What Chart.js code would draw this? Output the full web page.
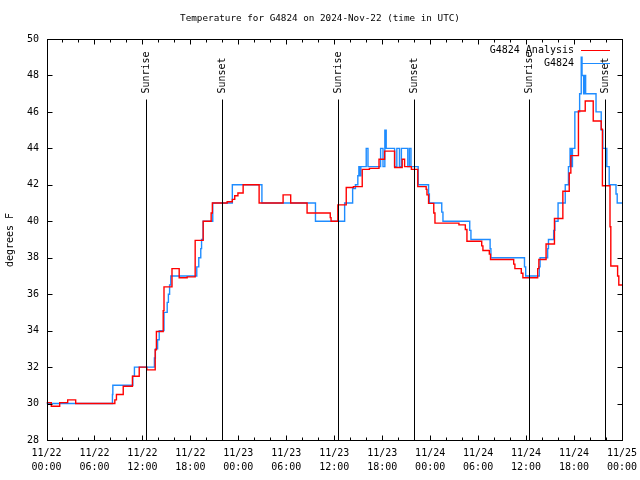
<!DOCTYPE html>
<html>
<head>
<meta charset="utf-8">
<script src="https://cdn.jsdelivr.net/npm/chart.js@4/dist/chart.umd.min.js"></script>
<style>
body{margin:0;background:#fff}
canvas{display:block}
</style>
</head>
<body>
<canvas id="c" width="640" height="480"></canvas>
<script>
var title = "Temperature for G4824 on 2024-Nov-22 (time in UTC)"
var yTitle = "degrees F"

// hours since 11/22 00:00 UTC
var tickHours = [0, 6, 12, 18, 24, 30, 36, 42, 48, 54, 60, 66, 72]
var tickDays = ['11/22', '11/22', '11/22', '11/22', '11/23', '11/23', '11/23', '11/23', '11/24', '11/24', '11/24', '11/24', '11/25']
var tickTimes = ['00:00', '06:00', '12:00', '18:00', '00:00', '06:00', '12:00', '18:00', '00:00', '06:00', '12:00', '18:00', '00:00']
var yTicks = [28, 30, 32, 34, 36, 38, 40, 42, 44, 46, 48, 50]

var sunHours = [12.5, 21.95, 36.45, 46.0, 60.35, 69.9]
var sunLabels = ['Sunrise', 'Sunset', 'Sunrise', 'Sunset', 'Sunrise', 'Sunset']

// G4824 Analysis (red)
var anaHours = [0, 0.6, 1.65, 2.65, 3.65, 8.55, 8.75, 9.6, 10.75, 11.6, 12.55, 13.6, 13.75, 14.6, 14.7, 15.7, 16.6, 17.6,
  18.6, 19.6, 20.6, 20.75, 22.6, 23.25, 23.55, 23.95, 24.6, 26.6, 29.6, 30.55, 32.6, 35.5, 35.6, 36.45, 37.5, 38.4,
  39.5, 40.4, 41.6, 42.3, 43.55, 44.5, 44.8, 45.65, 46.45, 47.5, 47.6, 47.8, 48.45, 48.6, 51.6, 52.4, 52.6, 54.45,
  54.6, 55.4, 55.55, 58.45, 58.6, 59.4, 59.6, 61.45, 61.6, 62.5, 63.55, 64.6, 65.4, 65.6, 66.55, 67.4, 68.4, 69.4,
  69.55, 70.5, 70.6, 71.45, 71.6, 72]
var anaTemps = [30.05, 29.85, 30.05, 30.2, 30.0, 30.2, 30.5, 30.95, 31.5, 32.0, 31.85, 32.95, 33.95, 35.1, 36.4, 37.4, 36.9, 36.95,
  38.95, 40.0, 40.45, 41.0, 41.07, 41.2, 41.4, 41.55, 42.0, 41.0, 41.45, 41.0, 40.45, 40.2, 40.0, 40.9, 41.85, 41.9,
  42.85, 42.9, 43.4, 43.85, 42.95, 43.4, 43.0, 42.85, 41.9, 41.75, 41.45, 40.98, 40.45, 39.9, 39.8, 39.55, 38.9, 38.65,
  38.4, 38.2, 37.9, 37.65, 37.4, 37.15, 36.9, 37.4, 37.9, 38.75, 40.15, 41.65, 42.65, 43.6, 46.05, 46.6, 45.5, 45.05,
  41.95, 39.7, 37.55, 37.0, 36.5, 36.5]

// G4824 station (blue)
var obsHours = [0, 8.25, 8.3, 10.8, 11.0, 13.5, 13.62, 13.9, 14.1, 14.7, 15.1, 15.25, 15.4, 15.55, 18.8, 19.05, 19.3, 19.4,
  19.6, 20.8, 23.25, 26.95, 33.65, 37.3, 38.3, 38.65, 38.95, 39.08, 39.2, 39.33, 40.0, 40.22, 41.8, 42.1, 42.33, 42.5,
  43.55, 43.83, 44.16, 44.4, 45.2, 45.4, 45.6, 46.5, 47.8, 47.9, 49.45, 49.6, 52.95, 53.1, 55.5, 55.6, 59.8, 59.95,
  61.65, 61.75, 62.7, 62.8, 63.45, 63.6, 64.0, 64.9, 65.3, 65.5, 65.66, 65.8, 66.1, 66.7, 66.9, 67.0, 67.2, 67.3,
  67.45, 68.75, 69.4, 69.6, 70.1, 70.4, 71.25, 71.4, 72]
var obsTemps = [30.0, 30.5, 31.0, 31.5, 32.0, 32.5, 33.0, 33.5, 34.0, 35.0, 35.55, 36.0, 36.5, 37.0, 37.5, 38.0, 38.5, 39.0,
  40.0, 41.0, 42.0, 41.0, 40.0, 41.0, 41.8, 42.0, 42.5, 43.0, 42.5, 43.0, 44.0, 43.0, 44.0, 43.0, 45.0, 44.0,
  43.0, 44.0, 43.0, 44.0, 43.0, 44.0, 43.0, 42.0, 41.5, 41.0, 40.5, 40.0, 39.5, 39.0, 38.5, 38.0, 37.5, 37.0,
  37.5, 38.0, 38.5, 39.0, 39.5, 40.0, 41.0, 42.0, 43.0, 44.0, 43.0, 44.0, 46.0, 47.0, 49.0, 48.0, 47.0, 48.0,
  47.0, 46.0, 45.0, 44.0, 43.0, 42.0, 41.5, 41.0, 41.0]

var RED = '#ff0000'
var BLUE = '#1e8cff'
var FONT = '"DejaVu Sans Mono", "Liberation Mono", monospace'

function pts(xs, ys) {
  return xs.map((x, i) => ({ x: x, y: ys[i] }))
}

var gnuFrame = {
  id: 'gnuFrame',
  afterDraw(chart) {
    var ctx = chart.ctx, a = chart.chartArea
    var xs = chart.scales.x, ys = chart.scales.y
    var L = Math.round(a.left) + 0.5, R = Math.round(a.right) + 0.5
    var T = Math.round(a.top) + 0.5, B = Math.round(a.bottom) + 0.5
    ctx.save()
    ctx.strokeStyle = '#000'
    ctx.lineWidth = 1
    ctx.beginPath()
    // x ticks, major every 6h, minor every 2h, mirrored on top
    for (var h = 0; h <= 72; h += 2) {
      var px = Math.round(xs.getPixelForValue(h)) + 0.5
      var len = h % 6 == 0 ? 5 : 3
      ctx.moveTo(px, B); ctx.lineTo(px, B - len)
      ctx.moveTo(px, T); ctx.lineTo(px, T + len)
    }
    yTicks.forEach(v => {
      var py = Math.round(ys.getPixelForValue(v)) + 0.5
      ctx.moveTo(L, py); ctx.lineTo(L + 5, py)
      ctx.moveTo(R, py); ctx.lineTo(R - 5, py)
    })
    ctx.stroke()
    ctx.strokeRect(L, T, R - L, B - T)

    // sunrise / sunset markers, up to 0.85 of the graph height
    var top = Math.round(a.bottom - 0.85 * (a.bottom - a.top)) + 0.5
    ctx.font = '10px ' + FONT
    ctx.fillStyle = '#000'
    sunHours.forEach((h, i) => {
      var px = Math.round(xs.getPixelForValue(h)) + 0.5
      ctx.beginPath()
      ctx.moveTo(px, B); ctx.lineTo(px, top)
      ctx.stroke()
      ctx.save()
      ctx.translate(px, top - 6)
      ctx.rotate(-Math.PI / 2)
      ctx.textAlign = 'left'
      ctx.textBaseline = 'middle'
      ctx.fillText(sunLabels[i], 0, 0)
      ctx.restore()
    })

    // key
    ctx.textAlign = 'right'
    ctx.textBaseline = 'middle'
    var keys = [['G4824 Analysis', RED, 50], ['G4824', BLUE, 63]]
    keys.forEach(k => {
      ctx.fillStyle = '#000'
      ctx.fillText(k[0], 574, k[2])
      ctx.strokeStyle = k[1]
      ctx.beginPath()
      ctx.moveTo(581, k[2] + 0.5); ctx.lineTo(610, k[2] + 0.5)
      ctx.stroke()
    })

    // title and y label
    ctx.fillStyle = '#000'
    ctx.font = '9.3px ' + FONT
    ctx.textAlign = 'center'
    ctx.fillText(title, 320, 19)
    ctx.font = '10px ' + FONT
    ctx.save()
    ctx.translate(10, 240)
    ctx.rotate(-Math.PI / 2)
    ctx.fillText(yTitle, 0, 0)
    ctx.restore()
    ctx.restore()
  }
}

new Chart(document.getElementById('c'), {
  type: 'line',
  data: {
    datasets: [
      { label: 'G4824 Analysis', data: pts(anaHours, anaTemps), borderColor: RED, borderWidth: 1.4, stepped: 'before', pointRadius: 0, fill: false },
      { label: 'G4824', data: pts(obsHours, obsTemps), borderColor: BLUE, borderWidth: 1.4, stepped: 'before', pointRadius: 0, fill: false }
    ]
  },
  options: {
    responsive: false,
    animation: false,
    devicePixelRatio: 1,
    layout: { padding: { top: 39, right: 18, left: 0, bottom: 0 } },
    plugins: { legend: { display: false }, title: { display: false }, tooltip: { enabled: false } },
    scales: {
      x: {
        type: 'linear', min: 0, max: 72,
        afterBuildTicks: s => { s.ticks = tickHours.map(v => ({ value: v })) },
        afterFit: s => { s.height = 40; s.paddingLeft = 0; s.paddingRight = 0 },
        grid: { display: false, drawTicks: false },
        border: { display: false },
        ticks: {
          autoSkip: false, maxRotation: 0, padding: 7, color: '#000',
          font: { family: FONT, size: 10, lineHeight: '13.5px' },
          callback: (v, i) => [tickDays[i], tickTimes[i]]
        }
      },
      y: {
        min: 28, max: 50,
        afterBuildTicks: s => { s.ticks = yTicks.map(v => ({ value: v })) },
        afterFit: s => { s.width = 46.5; s.paddingTop = 0; s.paddingBottom = 0 },
        grid: { display: false, drawTicks: false },
        border: { display: false },
        ticks: { padding: 7.5, color: '#000', font: { family: FONT, size: 10 } }
      }
    }
  },
  plugins: [gnuFrame]
})
</script>
</body>
</html>
